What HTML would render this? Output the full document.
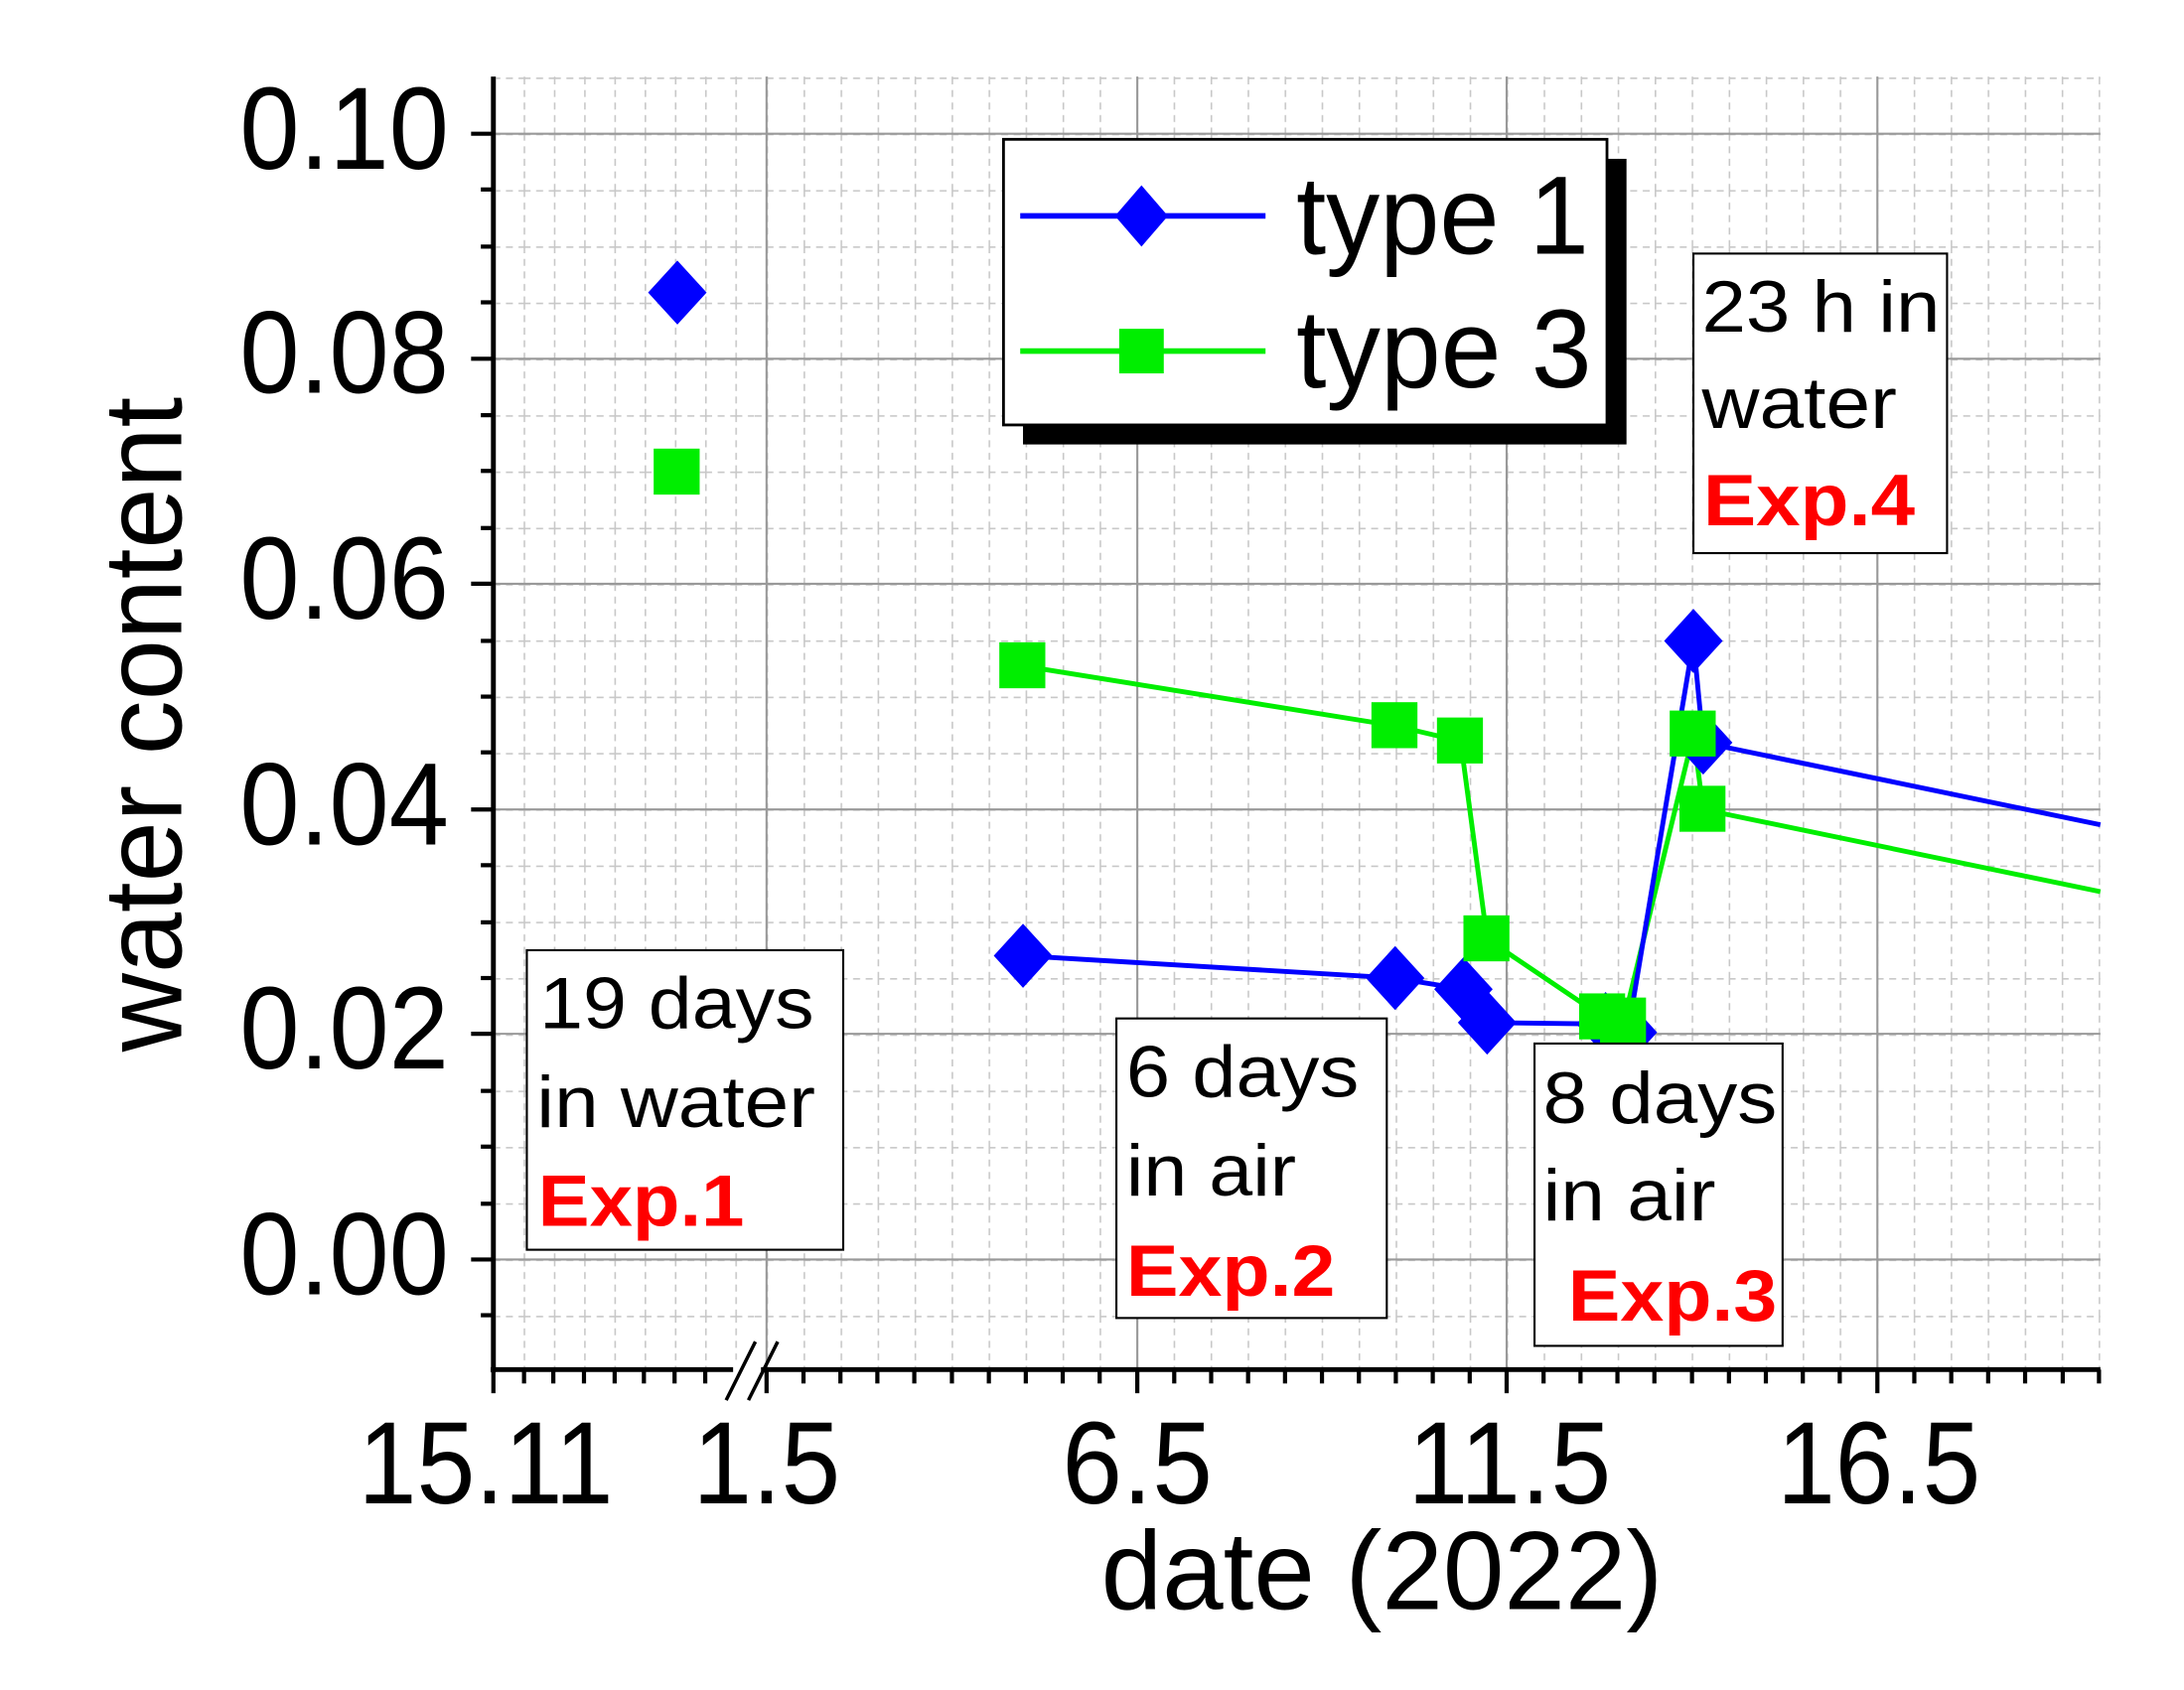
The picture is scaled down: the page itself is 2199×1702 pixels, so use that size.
<!DOCTYPE html>
<html><head><meta charset="utf-8"><style>html,body{margin:0;padding:0;background:#fff}svg{display:block}</style></head>
<body>
<svg width="2199" height="1702" viewBox="0 0 1567 1213" preserveAspectRatio="none" xmlns="http://www.w3.org/2000/svg" font-family="Liberation Sans, Arial, sans-serif">
<defs>
<pattern id="gR" patternUnits="userSpaceOnUse" x="550" y="96" width="26.55" height="40.4">
<line x1="0.5" y1="0" x2="0.5" y2="40.4" stroke="#c8c8c8" stroke-width="1.3" stroke-dasharray="5,4"/>
<line x1="0" y1="0.5" x2="26.55" y2="0.5" stroke="#c8c8c8" stroke-width="1.3" stroke-dasharray="5,4"/>
</pattern>
<pattern id="gL" patternUnits="userSpaceOnUse" x="354" y="96" width="21.7" height="40.4">
<line x1="0.5" y1="0" x2="0.5" y2="40.4" stroke="#c8c8c8" stroke-width="1.3" stroke-dasharray="5,4"/>
<line x1="0" y1="0.5" x2="21.7" y2="0.5" stroke="#c8c8c8" stroke-width="1.3" stroke-dasharray="5,4"/>
</pattern>
</defs>
<rect width="1567" height="1213" fill="#fff"/>
<rect x="356" y="55" width="185" height="928" fill="url(#gL)"/>
<rect x="541" y="55" width="966" height="928" fill="url(#gR)"/>
<g stroke="#999" stroke-width="1.5">
<line x1="354" y1="96" x2="1507" y2="96"/><line x1="354" y1="257.5" x2="1507" y2="257.5"/>
<line x1="354" y1="419" x2="1507" y2="419"/><line x1="354" y1="581" x2="1507" y2="581"/>
<line x1="354" y1="742" x2="1507" y2="742"/><line x1="354" y1="904" x2="1507" y2="904"/>
<line x1="550" y1="55" x2="550" y2="983"/><line x1="816" y1="55" x2="816" y2="983"/>
<line x1="1081" y1="55" x2="1081" y2="983"/><line x1="1347" y1="55" x2="1347" y2="983"/>
</g>
<g stroke="#000" stroke-width="3.5" fill="none">
<line x1="354" y1="55" x2="354" y2="985"/>
<line x1="352" y1="983" x2="1507" y2="983"/>
</g>
<g stroke="#000" stroke-width="3">
<line x1="338" y1="96" x2="354" y2="96"/><line x1="338" y1="257.5" x2="354" y2="257.5"/><line x1="338" y1="419" x2="354" y2="419"/><line x1="338" y1="581" x2="354" y2="581"/><line x1="338" y1="742" x2="354" y2="742"/><line x1="338" y1="904" x2="354" y2="904"/>
<line x1="345" y1="136" x2="354" y2="136"/><line x1="345" y1="177" x2="354" y2="177"/><line x1="345" y1="217" x2="354" y2="217"/><line x1="345" y1="298" x2="354" y2="298"/><line x1="345" y1="338" x2="354" y2="338"/><line x1="345" y1="379" x2="354" y2="379"/><line x1="345" y1="460" x2="354" y2="460"/><line x1="345" y1="500" x2="354" y2="500"/><line x1="345" y1="540" x2="354" y2="540"/><line x1="345" y1="621" x2="354" y2="621"/><line x1="345" y1="662" x2="354" y2="662"/><line x1="345" y1="702" x2="354" y2="702"/><line x1="345" y1="783" x2="354" y2="783"/><line x1="345" y1="823" x2="354" y2="823"/><line x1="345" y1="864" x2="354" y2="864"/><line x1="345" y1="944" x2="354" y2="944"/>
<line x1="354" y1="983" x2="354" y2="1000"/><line x1="550" y1="983" x2="550" y2="1000"/><line x1="816" y1="983" x2="816" y2="1000"/><line x1="1081" y1="983" x2="1081" y2="1000"/><line x1="1347" y1="983" x2="1347" y2="1000"/>
<line x1="376" y1="983" x2="376" y2="993"/><line x1="397" y1="983" x2="397" y2="993"/><line x1="419" y1="983" x2="419" y2="993"/><line x1="441" y1="983" x2="441" y2="993"/><line x1="462" y1="983" x2="462" y2="993"/><line x1="484" y1="983" x2="484" y2="993"/><line x1="506" y1="983" x2="506" y2="993"/>
<line x1="576.5" y1="983" x2="576.5" y2="993"/><line x1="603" y1="983" x2="603" y2="993"/><line x1="629.5" y1="983" x2="629.5" y2="993"/><line x1="656" y1="983" x2="656" y2="993"/><line x1="683" y1="983" x2="683" y2="993"/><line x1="709.5" y1="983" x2="709.5" y2="993"/><line x1="736" y1="983" x2="736" y2="993"/><line x1="762.5" y1="983" x2="762.5" y2="993"/><line x1="789" y1="983" x2="789" y2="993"/>
<line x1="842.5" y1="983" x2="842.5" y2="993"/><line x1="869" y1="983" x2="869" y2="993"/><line x1="895.5" y1="983" x2="895.5" y2="993"/><line x1="922" y1="983" x2="922" y2="993"/><line x1="948.5" y1="983" x2="948.5" y2="993"/><line x1="975" y1="983" x2="975" y2="993"/><line x1="1001.5" y1="983" x2="1001.5" y2="993"/><line x1="1028" y1="983" x2="1028" y2="993"/><line x1="1054.5" y1="983" x2="1054.5" y2="993"/>
<line x1="1107.5" y1="983" x2="1107.5" y2="993"/><line x1="1134" y1="983" x2="1134" y2="993"/><line x1="1160.5" y1="983" x2="1160.5" y2="993"/><line x1="1187" y1="983" x2="1187" y2="993"/><line x1="1214" y1="983" x2="1214" y2="993"/><line x1="1240.5" y1="983" x2="1240.5" y2="993"/><line x1="1267" y1="983" x2="1267" y2="993"/><line x1="1293.5" y1="983" x2="1293.5" y2="993"/><line x1="1320" y1="983" x2="1320" y2="993"/>
<line x1="1373.5" y1="983" x2="1373.5" y2="993"/><line x1="1400" y1="983" x2="1400" y2="993"/><line x1="1426.5" y1="983" x2="1426.5" y2="993"/><line x1="1453" y1="983" x2="1453" y2="993"/><line x1="1480" y1="983" x2="1480" y2="993"/><line x1="1506" y1="983" x2="1506" y2="993"/>
</g>
<rect x="526" y="976" width="20" height="14" fill="#fff"/>
<g stroke="#000" stroke-width="2.5"><line x1="521" y1="1005" x2="542" y2="963"/><line x1="537" y1="1005" x2="558" y2="963"/></g>
<g font-size="84" fill="#000" text-anchor="end">
<text x="322" y="121" textLength="150" lengthAdjust="spacingAndGlyphs">0.10</text>
<text x="322" y="282" textLength="150" lengthAdjust="spacingAndGlyphs">0.08</text>
<text x="322" y="444" textLength="150" lengthAdjust="spacingAndGlyphs">0.06</text>
<text x="322" y="606" textLength="150" lengthAdjust="spacingAndGlyphs">0.04</text>
<text x="322" y="767" textLength="150" lengthAdjust="spacingAndGlyphs">0.02</text>
<text x="322" y="929" textLength="150" lengthAdjust="spacingAndGlyphs">0.00</text>
</g>
<g font-size="84" fill="#000">
<text x="257" y="1079" textLength="183" lengthAdjust="spacingAndGlyphs">15.11</text>
<text x="497" y="1079" textLength="106" lengthAdjust="spacingAndGlyphs">1.5</text>
<text x="762" y="1079" textLength="108" lengthAdjust="spacingAndGlyphs">6.5</text>
<text x="1010" y="1079" textLength="146" lengthAdjust="spacingAndGlyphs">11.5</text>
<text x="1275" y="1079" textLength="146" lengthAdjust="spacingAndGlyphs">16.5</text>
<text x="790" y="1155" font-size="80" textLength="403" lengthAdjust="spacingAndGlyphs">date (2022)</text>
<text transform="translate(130,755) rotate(-90)" font-size="80" textLength="470" lengthAdjust="spacingAndGlyphs">water content</text>
</g>
<polyline fill="none" stroke="#00ee00" stroke-width="3.5" points="734,478 1001,521 1048,532 1067,674 1150,730 1165,733 1215,527 1222,581 1507,640"/>
<polyline fill="none" stroke="#0000ff" stroke-width="3.5" points="734,686 1001,702 1050,710 1067,734 1152,735 1168,741 1215,460 1222,533 1507,592"/>
<g fill="#0000ff">
<polygon points="486,187 507,210 486,233 465,210"/>
<polygon points="734,663 755,686 734,709 713,686"/>
<polygon points="1001,679 1022,702 1001,725 980,702"/>
<polygon points="1050,687 1071,710 1050,733 1029,710"/>
<polygon points="1067,711 1088,734 1067,757 1046,734"/>
<polygon points="1152,712 1173,735 1152,758 1131,735"/>
<polygon points="1168,718 1189,741 1168,764 1147,741"/>
<polygon points="1215,437 1236,460 1215,483 1194,460"/>
<polygon points="1222,510 1243,533 1222,556 1201,533"/>
</g>
<g fill="#00ee00">
<rect x="469" y="322" width="33" height="33"/>
<rect x="717" y="461" width="33" height="33"/>
<rect x="984" y="504" width="33" height="33"/>
<rect x="1031" y="515" width="33" height="33"/>
<rect x="1050" y="657" width="33" height="33"/>
<rect x="1133" y="713" width="33" height="33"/>
<rect x="1148" y="716" width="33" height="33"/>
<rect x="1198" y="510" width="33" height="33"/>
<rect x="1205" y="564" width="33" height="33"/>
</g>
<rect x="734" y="114" width="433" height="205" fill="#000"/>
<rect x="720" y="100" width="433" height="205" fill="#fff" stroke="#000" stroke-width="2"/>
<line x1="732" y1="155" x2="908" y2="155" stroke="#0000ff" stroke-width="4"/>
<polygon points="819,133 838,155 819,177 800,155" fill="#0000ff"/>
<line x1="732" y1="252" x2="908" y2="252" stroke="#00ee00" stroke-width="4"/>
<rect x="803" y="236" width="32" height="32" fill="#00ee00"/>
<text x="930" y="182" font-size="80" textLength="210" lengthAdjust="spacingAndGlyphs">type 1</text>
<text x="930" y="278" font-size="80" textLength="212" lengthAdjust="spacingAndGlyphs">type 3</text>
<g fill="#fff" stroke="#000" stroke-width="1.5">
<rect x="378" y="682" width="227" height="215"/>
<rect x="801" y="731" width="194" height="215"/>
<rect x="1101" y="749" width="178" height="217"/>
<rect x="1215" y="182" width="182" height="215"/>
</g>
<g font-size="52" fill="#000">
<text x="387" y="738" textLength="197" lengthAdjust="spacingAndGlyphs">19 days</text>
<text x="385" y="809" textLength="200" lengthAdjust="spacingAndGlyphs">in water</text>
<text x="808" y="787" textLength="167" lengthAdjust="spacingAndGlyphs">6 days</text>
<text x="808" y="858" textLength="122" lengthAdjust="spacingAndGlyphs">in air</text>
<text x="1107" y="806" textLength="168" lengthAdjust="spacingAndGlyphs">8 days</text>
<text x="1107" y="876" textLength="124" lengthAdjust="spacingAndGlyphs">in air</text>
<text x="1221" y="238" textLength="171" lengthAdjust="spacingAndGlyphs">23 h in</text>
<text x="1221" y="307" textLength="140" lengthAdjust="spacingAndGlyphs">water</text>
</g>
<g font-size="52" fill="#ff0000" font-weight="bold">
<text x="386" y="880" textLength="148" lengthAdjust="spacingAndGlyphs">Exp.1</text>
<text x="808" y="930" textLength="150" lengthAdjust="spacingAndGlyphs">Exp.2</text>
<text x="1125" y="948" textLength="150" lengthAdjust="spacingAndGlyphs">Exp.3</text>
<text x="1222" y="377" textLength="152" lengthAdjust="spacingAndGlyphs">Exp.4</text>
</g>
</svg>
</body></html>
